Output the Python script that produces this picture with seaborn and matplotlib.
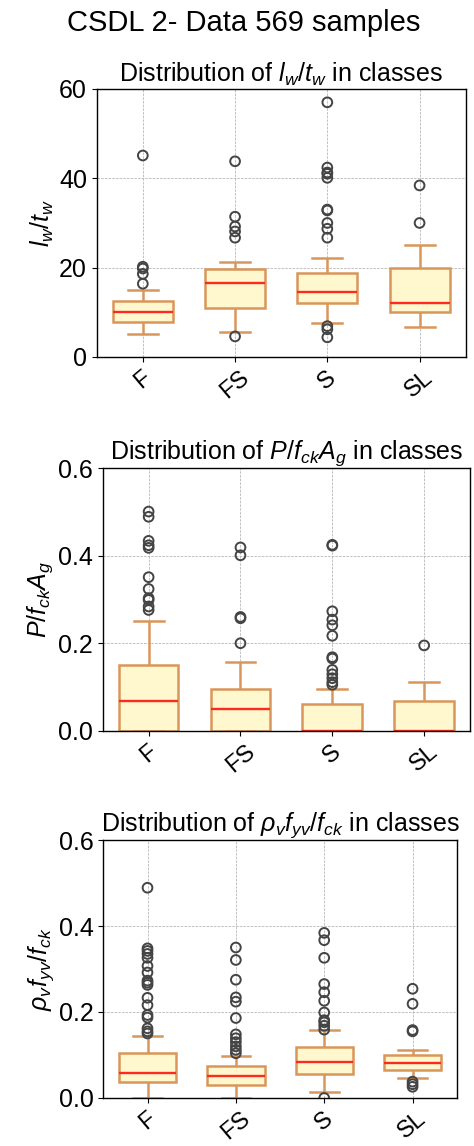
import numpy as np
import pandas as pd
import matplotlib
matplotlib.use("Agg")
import matplotlib.pyplot as plt
import seaborn as sns

# Classes shown on every panel
classes = ["F", "FS", "S", "SL"]

# Box statistics: whisker low, Q1, median, Q3, whisker high
lw_tw_box = {
    "F": [5.1, 7.9, 10.1, 12.5, 15.1],
    "FS": [5.6, 11.0, 16.6, 19.7, 21.3],
    "S": [7.5, 12.0, 14.5, 18.7, 22.1],
    "SL": [6.7, 10.1, 12.0, 19.9, 25.0],
}
lw_tw_out = {
    "F": [45.1, 20.2, 19.8, 18.6, 16.4],
    "FS": [43.8, 31.4, 29.2, 28.1, 26.7, 4.6],
    "S": [57.0, 42.4, 41.3, 41.0, 40.1, 33.0, 32.8, 30.0, 28.7, 26.7, 6.9, 6.2, 4.4],
    "SL": [38.4, 30.0],
}

p_box = {
    "F": [0.0, 0.0, 0.069, 0.150, 0.250],
    "FS": [0.0, 0.0, 0.050, 0.095, 0.158],
    "S": [0.0, 0.0, 0.0, 0.060, 0.095],
    "SL": [0.0, 0.0, 0.0, 0.069, 0.112],
}
p_out = {
    "F": [0.501, 0.489, 0.434, 0.424, 0.418, 0.351, 0.324, 0.303, 0.299, 0.284, 0.276],
    "FS": [0.419, 0.401, 0.260, 0.257, 0.200],
    "S": [0.425, 0.423, 0.273, 0.254, 0.241, 0.217, 0.168, 0.165, 0.139, 0.129,
          0.120, 0.111, 0.105],
    "SL": [0.195],
}

rho_box = {
    "F": [0.0, 0.038, 0.058, 0.104, 0.144],
    "FS": [0.0, 0.031, 0.050, 0.075, 0.098],
    "S": [0.014, 0.055, 0.084, 0.118, 0.158],
    "SL": [0.047, 0.064, 0.082, 0.101, 0.112],
}
rho_out = {
    "F": [0.489, 0.348, 0.342, 0.335, 0.326, 0.307, 0.292, 0.273, 0.268, 0.263,
          0.233, 0.216, 0.193, 0.187, 0.162, 0.155, 0.150],
    "FS": [0.350, 0.321, 0.275, 0.234, 0.224, 0.186, 0.148, 0.139, 0.130, 0.120,
           0.112, 0.104],
    "S": [0.384, 0.367, 0.326, 0.265, 0.246, 0.226, 0.199, 0.181, 0.176, 0.168,
          0.159, 0.0],
    "SL": [0.254, 0.219, 0.158, 0.155, 0.038, 0.032, 0.026],
}

titles = [r"Distribution of $l_w/t_w$ in classes",
          r"Distribution of $P/f_{ck}A_g$ in classes",
          r"Distribution of $\rho_v f_{yv}/f_{ck}$ in classes"]
ylabels = [r"$l_w/t_w$", r"$P/f_{ck}A_g$", r"$\rho_v f_{yv}/f_{ck}$"]
yticks = [[0, 20, 40, 60], [0.0, 0.2, 0.4, 0.6], [0.0, 0.2, 0.4, 0.6]]
ylims = [(0, 60), (0, 0.6), (0, 0.6)]

plt.rcParams["font.family"] = ["Liberation Sans", "DejaVu Sans"]
plt.rcParams["mathtext.fontset"] = "custom"
plt.rcParams["mathtext.rm"] = "Liberation Sans"
plt.rcParams["mathtext.it"] = "Liberation Sans:italic"
plt.rcParams["mathtext.bf"] = "Liberation Sans:bold"

face = "#FFF8CE"
edge = "#D9965A"


def long_frame(d):
    rows = [(c, v) for c in classes for v in d[c]]
    return pd.DataFrame(rows, columns=["cls", "val"])


fig = plt.figure(figsize=(4.74, 11.46), dpi=100)
positions = [[0.204, 0.6885, 0.7785, 0.2339],
             [0.2167, 0.3624, 0.775, 0.2290],
             [0.218, 0.0419, 0.7456, 0.2251]]

panels = [(lw_tw_box, lw_tw_out), (p_box, p_out), (rho_box, rho_out)]
for i, (box, out) in enumerate(panels):
    ax = fig.add_axes(positions[i])
    sns.boxplot(data=long_frame(box), x="cls", y="val", order=classes,
                whis=(0, 100), width=0.65, color=face, saturation=1,
                linecolor=edge, linewidth=1.8, showfliers=False,
                medianprops=dict(color="#FF2A1F", linewidth=1.7), ax=ax)
    sns.stripplot(data=long_frame(out), x="cls", y="val", order=classes,
                  jitter=False, size=7, color="none", facecolors="none",
                  edgecolor="#444444", linewidth=1.4, ax=ax)
    ax.set_ylim(*ylims[i])
    ax.set_yticks(yticks[i])
    if i > 0:
        ax.set_yticklabels([f"{t:.1f}" for t in yticks[i]])
    ax.set_xlim(-0.5, 3.5)
    ax.grid(True, linestyle="--", linewidth=0.5, color="#aaaaaa")
    ax.set_xlabel("")
    ax.set_ylabel(ylabels[i], fontsize=18, labelpad=2)
    ax.set_title(titles[i], fontsize=18, pad=5)
    ax.tick_params(axis="y", labelsize=18)
    ax.tick_params(axis="x", labelsize=17)
    for lab in ax.get_xticklabels():
        lab.set_rotation(40)
    for sp in ax.spines.values():
        sp.set_color("black")
        sp.set_linewidth(1.0)

fig.text(0.514, 1 - 23 / 1146, "CSDL 2- Data 569 samples", ha="center",
         va="center", fontsize=21)

fig.savefig("out.png", dpi=100)
